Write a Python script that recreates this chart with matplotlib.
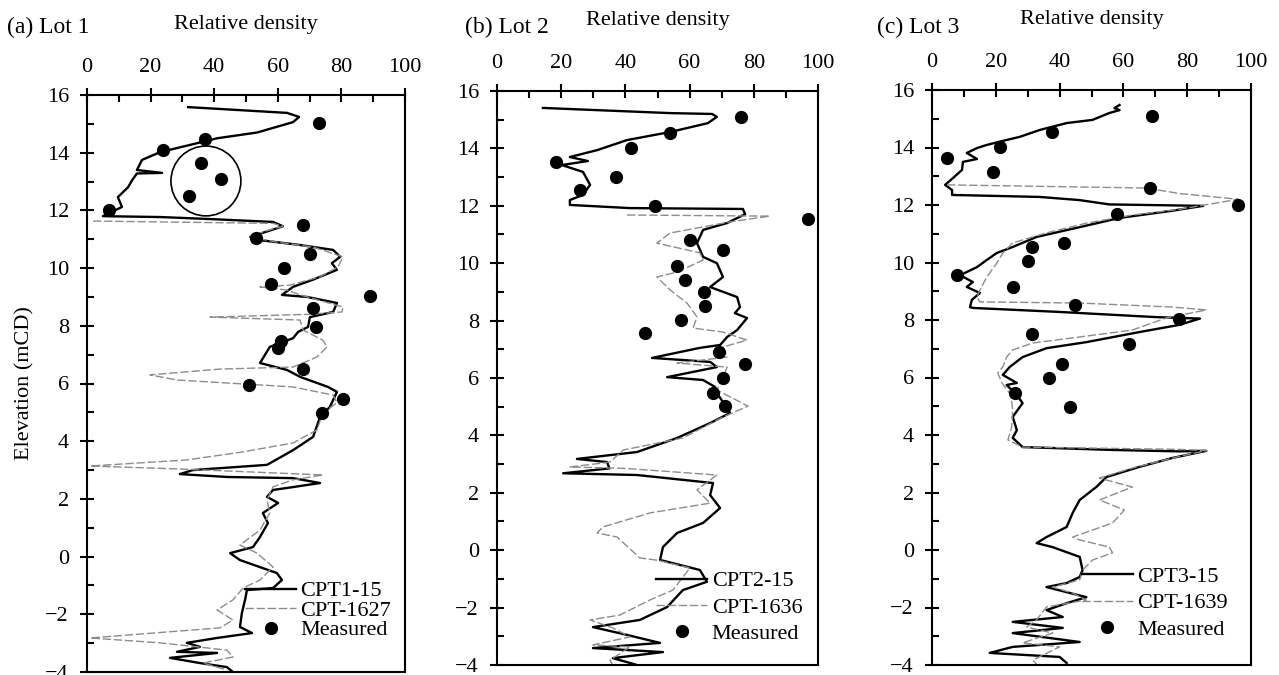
import matplotlib
matplotlib.use("Agg")
import matplotlib.pyplot as plt
from matplotlib.patches import Ellipse
from matplotlib.ticker import MultipleLocator

plt.rcParams['font.family'] = ['Liberation Serif', 'DejaVu Serif']

# ---- Lot 1 ----
lot1_a_rd = [31.8, 62.9, 66.7, 64.8, 53.5, 40.9, 32.4, 23, 17.3, 15.7, 23.6, 15.7, 14.2, 12.9, 9.7, 11, 5,
             23, 38.7, 58.5, 61.6, 51.3, 54.4, 67, 77.4, 79.6, 77, 78.6, 71.1, 64.8, 61.3, 69.2, 78.6, 77.4,
             70.1, 69.5, 66.4, 64.8, 57.5, 54.4, 62.9, 67, 75.8, 78.6, 76.4, 73.3, 71.1, 64.8, 56.6, 33.3,
             29.2, 44, 64.8, 73.3, 64.8, 58.5, 56.6, 60.1, 55.3, 56.9, 54.4, 52.2, 45, 48.1, 59.7, 61.3,
             58.5, 50.3, 49.7, 48.7, 48.1, 51.9, 40.9, 31.4, 35.5, 28.3, 40.9, 26.1, 35.5, 44, 45.9]
lot1_a_el = [15.58, 15.38, 15.24, 15.06, 14.7, 14.5, 14.27, 14.02, 13.75, 13.4, 13.3, 13.28, 13.05, 12.8,
             12.46, 12.12, 11.8, 11.77, 11.7, 11.6, 11.45, 11.08, 10.97, 10.8, 10.63, 10.39, 10.17, 9.94,
             9.6, 9.35, 9.07, 9.0, 8.79, 8.48, 8.3, 7.96, 7.79, 7.57, 7.27, 6.71, 6.47, 6.23, 5.88, 5.71,
             5.19, 4.84, 4.15, 3.69, 3.18, 3.0, 2.86, 2.76, 2.72, 2.55, 2.41, 2.31, 2.07, 1.86, 1.51, 1.16,
             0.68, 0.33, 0.12, -0.12, -0.57, -0.81, -1.09, -1.16, -1.5, -1.96, -2.44, -2.65, -2.82, -2.99,
             -3.13, -3.3, -3.34, -3.51, -3.69, -3.83, -4.0]
lot1_b_rd = [1.9, 58.5, 61.6, 56.6, 51.3, 59.7, 71.1, 80.5, 78.9, 73.3, 63.8, 54.4, 62.9, 67, 80.5, 80.2,
             70, 38.7, 67, 68, 74.2, 75.5, 72.3, 64.8, 41.8, 19.8, 28.3, 54.4, 64.8, 77.4, 78.6, 74.2, 72.3,
             64.8, 49.1, 31.4, 1, 28.3, 74.2, 64.8, 58.5, 56.6, 57.5, 54.4, 48.1, 53.5, 58.5, 54.4, 49.1,
             45.9, 40.9, 45.9, 41.8, 1, 23, 44, 45.9, 36.5, 44]
lot1_b_el = [11.63, 11.55, 11.45, 11.3, 11.08, 10.9, 10.73, 10.39, 10.04, 9.7, 9.41, 9.35, 9.24, 9.07,
             8.65, 8.48, 8.4, 8.3, 8.2, 7.85, 7.5, 7.27, 6.92, 6.57, 6.5, 6.3, 6.12, 5.95, 5.88, 5.6, 5.33,
             4.98, 4.39, 3.94, 3.63, 3.35, 3.14, 3.04, 2.83, 2.66, 2.42, 1.96, 1.51, 0.92, 0.4, 0.12, -0.36,
             -0.81, -1.09, -1.5, -1.85, -2.2, -2.47, -2.82, -2.99, -3.24, -3.48, -3.69, -3.93]
lot1_meas_rd = [73, 37, 24, 36, 42, 32, 7, 68, 53, 70, 62, 58, 89, 71, 72, 61, 60, 68, 51, 80.5, 74]
lot1_meas_el = [15.03, 14.47, 14.1, 13.65, 13.1, 12.5, 12.0, 11.5, 11.05, 10.5, 10.0, 9.45, 9.05, 8.62,
                7.96, 7.47, 7.23, 6.5, 5.95, 5.46, 4.98]

# ---- Lot 2 ----
lot2_a_rd = [14.3, 53.9, 67, 68.5, 65.7, 53.9, 40.5, 31.2, 22.7, 28.3, 20.2, 26.8, 29, 26.8, 22.7, 22.7,
             41.4, 76.6, 77.3, 71.7, 64.2, 62.3, 64.2, 68.5, 70.4, 66.4, 74.8, 75.7, 74.1, 77.9, 74.8,
             71.7, 69.5, 63.2, 48.3, 66.4, 68.5, 53, 64.2, 67.9, 68.5, 72.6, 66.4, 56.1, 43.6, 24.9, 34.3,
             35, 20.6, 43.6, 67.3, 66.4, 69.5, 64.2, 56.1, 51.7, 50.8, 63.2, 65.4, 57.9, 53, 44.5, 29.9,
             39.3, 50.8, 29.9, 51.7, 36.1, 43.6]
lot2_a_el = [15.41, 15.23, 15.2, 15.1, 14.88, 14.57, 14.29, 13.94, 13.7, 13.56, 13.42, 13.18, 12.73,
             12.38, 12.2, 12.03, 11.92, 11.89, 11.71, 11.4, 11.16, 10.7, 10.22, 10.0, 9.52, 9.17, 8.82,
             8.47, 8.26, 8.09, 7.67, 7.43, 7.15, 7.05, 6.7, 6.56, 6.38, 6.03, 5.93, 5.69, 5.48, 4.78, 4.43,
             3.91, 3.42, 3.18, 3.07, 2.85, 2.68, 2.62, 2.34, 1.92, 1.47, 0.95, 0.6, 0.11, -0.34, -0.69,
             -1.1, -1.39, -1.98, -2.43, -2.68, -2.92, -3.23, -3.41, -3.55, -3.76, -4.0]
lot2_b_rd = [40.5, 85, 72.6, 53.9, 49.8, 63.2, 64.2, 56.1, 49.8, 53.9, 59.2, 62.3, 61.1, 70.4, 77.9, 70.4,
             71.7, 56.1, 71.7, 70.4, 68.5, 78.2, 70.4, 57.9, 39.3, 35.2, 22.7, 40, 68.5, 62.3, 66.4, 47.7,
             33, 31.2, 37.4, 44.5, 50, 60.1, 54.8, 47.7, 38.3, 29, 36.1, 41.4, 29.9, 41.4, 35.2, 36]
lot2_b_el = [11.68, 11.64, 11.44, 11.05, 10.7, 10.36, 10.11, 9.69, 9.52, 9.07, 8.61, 8.13, 7.74, 7.6,
             7.32, 7.08, 6.73, 6.52, 6.38, 6.03, 5.58, 5.02, 4.64, 3.91, 3.49, 3.07, 2.9, 2.85, 2.62, 2.1,
             1.64, 1.3, 0.81, 0.6, 0.46, -0.27, -0.35, -0.62, -1.39, -1.73, -2.26, -2.43, -2.71, -3.02,
             -3.3, -3.37, -3.83, -4.0]
lot2_meas_rd = [76, 53.9, 41.7, 18.4, 37, 25.9, 49.2, 97, 60.1, 70.4, 56.1, 58.6, 64.5, 64.8, 57.3, 46.1,
                69.2, 77.3, 70.4, 67.3, 71]
lot2_meas_el = [15.1, 14.54, 14.01, 13.53, 13.0, 12.55, 12.0, 11.55, 10.81, 10.46, 9.9, 9.41, 9.0, 8.51,
                8.02, 7.57, 6.91, 6.49, 6.0, 5.48, 5.02]

# ---- Lot 3 ----
lot3_a_rd = [58.8, 57.2, 58.8, 55.6, 50.3, 42.2, 33.8, 27.5, 22.2, 17.2, 14.1, 10.9, 14.1, 9.7, 9.4, 6.6,
             4.1, 6.3, 6.3, 33.8, 46.3, 55.6, 85, 75.3, 58.8, 46.3, 32.8, 25.3, 20.3, 17.2, 14.1, 10.9, 8.8,
             12.8, 10.9, 15, 12.5, 11.9, 12.8, 40, 70.3, 84, 77.5, 65, 48.4, 35.9, 28.4, 24.4, 22.2, 26.6,
             23.4, 26.6, 28.4, 25.3, 26.6, 25.3, 28.4, 56.6, 77.5, 86, 75.3, 65, 54.7, 51.6, 46.3, 44.1,
             42.2, 35.9, 32.8, 37.8, 46.3, 47.2, 46.3, 42.2, 35.9, 48.4, 42.2, 35.9, 41, 25.3, 41, 25.3,
             46.3, 25.3, 18.1, 40, 42.2]
lot3_a_el = [15.48, 15.37, 15.3, 15.2, 14.96, 14.85, 14.61, 14.37, 14.23, 14.09, 13.98, 13.81, 13.6, 13.5,
             13.22, 12.94, 12.7, 12.52, 12.35, 12.28, 12.17, 12.02, 11.97, 11.8, 11.55, 11.23, 10.89,
             10.54, 10.33, 10.09, 9.84, 9.67, 9.56, 9.32, 9.15, 8.94, 8.7, 8.45, 8.42, 8.28, 8.1, 8.05,
             7.83, 7.58, 7.23, 7.02, 6.71, 6.37, 6.09, 5.81, 5.74, 5.39, 5.11, 4.63, 4.17, 3.9, 3.58,
             3.48, 3.43, 3.45, 3.2, 2.89, 2.54, 2.2, 1.74, 1.29, 0.8, 0.45, 0.24, 0.1, -0.24, -0.7, -0.94,
             -1.15, -1.29, -1.64, -1.85, -2.09, -2.33, -2.5, -2.71, -2.89, -3.2, -3.37, -3.58, -3.72, -3.93]
lot3_b_rd = [4.7, 67.2, 77.5, 96, 77.5, 62.8, 48.4, 35.9, 25.3, 22.2, 20.3, 17.2, 15, 14.1, 15, 46.3,
             75.3, 86, 73.4, 62.8, 46.3, 31.6, 25.3, 23.4, 22.2, 20.6, 22, 24.7, 25.3, 25, 23.8, 28.4,
             77.5, 86, 76.6, 62.8, 52.5, 62.8, 52.5, 60.3, 56.6, 44.1, 46.3, 55.6, 56.6, 50.3, 47.2, 46.3,
             37.8, 44.1, 48.4, 35.9, 32.8, 29.7, 37.8, 28.4, 40, 31.6, 33]
lot3_b_el = [12.7, 12.59, 12.4, 12.2, 11.85, 11.65, 11.37, 11.03, 10.68, 10.33, 9.98, 9.5, 9.04, 8.8,
             8.63, 8.59, 8.45, 8.35, 8.07, 7.65, 7.41, 7.2, 6.96, 6.71, 6.37, 6.16, 5.8, 5.4, 4.87, 4.28,
             3.83, 3.58, 3.5, 3.46, 3.23, 2.85, 2.5, 2.19, 1.74, 1.39, 0.94, 0.45, 0.35, 0.1, -0.1, -0.35,
             -0.7, -1.04, -1.29, -1.5, -1.74, -1.98, -2.43, -2.68, -2.89, -3.23, -3.37, -3.83, -4.0]
lot3_meas_rd = [69.1, 37.5, 21.3, 4.7, 19.1, 68.4, 96, 58.1, 41.3, 31.2, 30, 7.8, 25.3, 44.7, 77.5, 31.2,
                61.6, 40.6, 36.6, 25.9, 43.4]
lot3_meas_el = [15.1, 14.54, 14.02, 13.63, 13.15, 12.59, 12.0, 11.68, 10.68, 10.54, 10.05, 9.56, 9.15,
                8.52, 8.05, 7.51, 7.17, 6.47, 5.98, 5.46, 4.97]

panels = [
    ("(a) Lot 1", "CPT1-15", "CPT-1627", lot1_a_rd, lot1_a_el, lot1_b_rd, lot1_b_el, lot1_meas_rd, lot1_meas_el),
    ("(b) Lot 2", "CPT2-15", "CPT-1636", lot2_a_rd, lot2_a_el, lot2_b_rd, lot2_b_el, lot2_meas_rd, lot2_meas_el),
    ("(c) Lot 3", "CPT3-15", "CPT-1639", lot3_a_rd, lot3_a_el, lot3_b_rd, lot3_b_el, lot3_meas_rd, lot3_meas_el),
]

W, H = 1279, 675
# axes boxes in pixels: left, right, top, bottom
boxes = [(87, 405, 95, 672), (497, 818, 91, 665), (932, 1251, 90, 665)]
title_x = [7, 465, 877]
# legend anchor (axes fraction) and row spacing
legend_pos = [(0.497, 0.158, -0.05), (0.496, 0.164, 0.26), (0.47, 0.172, 0.28)]

fig = plt.figure(figsize=(W / 100, H / 100), dpi=100)

for i, (title, n1, n2, a_rd, a_el, b_rd, b_el, m_rd, m_el) in enumerate(panels):
    l, r, t, b = boxes[i]
    ax = fig.add_axes([l / W, 1 - b / H, (r - l) / W, (b - t) / H])

    ax.plot(a_rd, a_el, color='black', lw=1.7, label=n1)
    ax.plot(b_rd, b_el, color='0.55', lw=1.0, ls=(0, (6, 2)), label=n2)
    ax.plot(m_rd, m_el, 'o', color='black', ms=8.5, ls='none', clip_on=False, label='Measured')

    if i == 0:
        ax.add_patch(Ellipse((37.4, 13.02), 22, 2.42, fill=False, ec='black', lw=1.2))
        ax.set_ylabel('Elevation (mCD)', fontsize=16, labelpad=8)

    ax.set_xlim(0, 100)
    ax.set_ylim(-4, 16)
    ax.xaxis.set_ticks_position('top')
    ax.xaxis.set_label_position('top')
    ax.xaxis.set_major_locator(MultipleLocator(20))
    ax.xaxis.set_minor_locator(MultipleLocator(10))
    ax.yaxis.set_major_locator(MultipleLocator(2))
    ax.yaxis.set_minor_locator(MultipleLocator(1))
    ax.tick_params(which='major', direction='inout', length=10, width=1.5, labelsize=16, pad=8)
    ax.tick_params(which='minor', direction='in', length=5, width=1.5)
    ax.tick_params(axis='y', which='both', right=False)
    ax.tick_params(axis='x', which='both', bottom=False)
    for s in ax.spines.values():
        s.set_linewidth(1.5)

    ax.set_xlabel('Relative density', fontsize=16, labelpad=21)
    fig.text(title_x[i] / W, 1 - 27 / H, title, fontsize=17, ha='left', va='center')

    lx, ly, sp = legend_pos[i]
    ax.legend(loc='upper left', bbox_to_anchor=(lx, ly), frameon=False, fontsize=16,
              handlelength=2.3, handletextpad=0.2, borderpad=0, borderaxespad=0,
              labelspacing=sp, numpoints=1)

fig.savefig('out.png', dpi=100)
